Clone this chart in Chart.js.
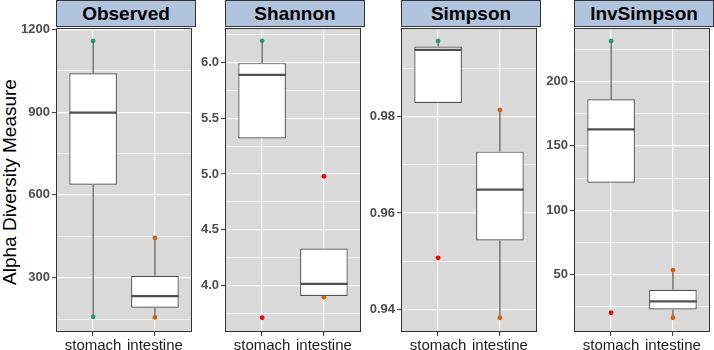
<!DOCTYPE html>
<html>
<head>
<meta charset="utf-8">
<script src="https://cdn.jsdelivr.net/npm/chart.js@4.4.0/dist/chart.umd.min.js"></script>
<style>
  body { margin: 0; background: #fff; }
  #wrap { position: relative; width: 714px; height: 350px; overflow: hidden; font-family: "Liberation Sans", Arial, sans-serif; }
  #wrap canvas { position: absolute; top: 0; }
  .strip { position: absolute; top: 0; height: 27px; box-sizing: border-box; border: 1px solid #333; background: #B0C4DE;
           font-weight: bold; font-size: 19px; line-height: 26px; text-align: center; color: #000; }
  #ytitle { position: absolute; left: -114.6px; top: 170.5px; width: 250px; height: 22px; line-height: 22px;
            font-size: 19px; color: #000; text-align: center; transform: rotate(-90deg); white-space: nowrap; }
</style>
</head>
<body>
<div id="wrap"><div id="ytitle">Alpha Diversity Measure</div></div>
<script>
// ---- data ----
const categories = ['stomach', 'intestine'];
const measures = ['Observed', 'Shannon', 'Simpson', 'InvSimpson'];

// box stats per group: [lower whisker, q1, median, q3, upper whisker]
const observedStomach = [158, 637, 898, 1041, 1158];
const observedIntestine = [156, 191, 233, 307, 444];
const shannonStomach = [5.32, 5.32, 5.89, 5.995, 6.195];
const shannonIntestine = [3.896, 3.907, 4.015, 4.333, 4.333];
const simpsonStomach = [0.98285, 0.98285, 0.99385, 0.99454, 0.9957];
const simpsonIntestine = [0.93826, 0.95431, 0.96484, 0.97273, 0.98139];
const invSimpsonStomach = [121.3, 121.3, 162.9, 186.3, 231.7];
const invSimpsonIntestine = [16.2, 22.7, 29.0, 38.0, 53.3];

// sample points (coloured by group) visible outside the boxes
const observedStomachPts = [1158, 158];
const observedIntestinePts = [444, 156];
const shannonStomachPts = [6.195];
const shannonIntestinePts = [3.896];
const simpsonStomachPts = [0.9957];
const simpsonIntestinePts = [0.98139, 0.93826];
const invSimpsonStomachPts = [231.7];
const invSimpsonIntestinePts = [53.3, 16.2];

// outliers (red)
const observedOutStomach = [];
const observedOutIntestine = [];
const shannonOutStomach = [3.712];
const shannonOutIntestine = [4.98];
const simpsonOutStomach = [0.9507];
const simpsonOutIntestine = [];
const invSimpsonOutStomach = [20.1];
const invSimpsonOutIntestine = [];

// axis limits and ticks
const observedLimits = [103, 1205];
const observedTicks = [300, 600, 900, 1200];
const observedMinor = [150, 450, 750, 1050];
const shannonLimits = [3.584, 6.31];
const shannonTicks = [4.0, 4.5, 5.0, 5.5, 6.0];
const shannonMinor = [3.75, 4.25, 4.75, 5.25, 5.75, 6.25];
const simpsonLimits = [0.9353, 0.9984];
const simpsonTicks = [0.94, 0.96, 0.98];
const simpsonMinor = [0.95, 0.97, 0.99];
const invSimpsonLimits = [5.1, 241.8];
const invSimpsonTicks = [50, 100, 150, 200];
const invSimpsonMinor = [25, 75, 125, 175, 225];

// ---- layout ----
const panelLeft = [56, 225, 401, 574];
const canvasLeft = [0, 196, 365, 541];
const panelW = 139;
const boxLine = '#505050';
const groupColors = ['#1B9E77', '#D95F02'];

Chart.defaults.font.family = '"Liberation Sans", Arial, sans-serif';

const panelPlugin = {
  id: 'panel',
  beforeDraw(chart) {
    const { ctx, chartArea: a } = chart;
    ctx.save();
    ctx.fillStyle = '#D9D9D9';
    ctx.fillRect(a.left, a.top, a.right - a.left, a.bottom - a.top);
    ctx.restore();
  },
  afterDraw(chart) {
    const { ctx, chartArea: a } = chart;
    ctx.save();
    ctx.strokeStyle = '#333';
    ctx.lineWidth = 1;
    ctx.strokeRect(a.left + 0.5, a.top + 0.5, a.right - a.left - 1, a.bottom - a.top - 1);
    ctx.restore();
  }
};

function lineDs(data, width, order) {
  return { type: 'line', data: data, borderColor: boxLine, borderWidth: width, pointRadius: 0,
           fill: false, order: order, yAxisID: 'y', xAxisID: 'x' };
}

function pointDs(values, k, color) {
  return { type: 'line', showLine: false, data: values.map(v => ({ x: k + 1, y: v })),
           pointRadius: 2.4, pointBackgroundColor: color, pointBorderWidth: 0, order: 2.5, yAxisID: 'y', xAxisID: 'x' };
}

const panels = [
  { stats: [observedStomach, observedIntestine], pts: [observedStomachPts, observedIntestinePts],
    out: [observedOutStomach, observedOutIntestine], lim: observedLimits, ticks: observedTicks, minor: observedMinor,
    fmt: v => String(v) },
  { stats: [shannonStomach, shannonIntestine], pts: [shannonStomachPts, shannonIntestinePts],
    out: [shannonOutStomach, shannonOutIntestine], lim: shannonLimits, ticks: shannonTicks, minor: shannonMinor,
    fmt: v => v.toFixed(1) },
  { stats: [simpsonStomach, simpsonIntestine], pts: [simpsonStomachPts, simpsonIntestinePts],
    out: [simpsonOutStomach, simpsonOutIntestine], lim: simpsonLimits, ticks: simpsonTicks, minor: simpsonMinor,
    fmt: v => v.toFixed(2) },
  { stats: [invSimpsonStomach, invSimpsonIntestine], pts: [invSimpsonStomachPts, invSimpsonIntestinePts],
    out: [invSimpsonOutStomach, invSimpsonOutIntestine], lim: invSimpsonLimits, ticks: invSimpsonTicks, minor: invSimpsonMinor,
    fmt: v => String(v) }
];

const wrap = document.getElementById('wrap');

panels.forEach((p, i) => {
  const axisW = panelLeft[i] - canvasLeft[i];
  const cv = document.createElement('canvas');
  cv.width = axisW + panelW + 1;
  cv.height = 350;
  cv.style.left = canvasLeft[i] + 'px';
  wrap.appendChild(cv);

  const strip = document.createElement('div');
  strip.className = 'strip';
  strip.style.left = panelLeft[i] + 'px';
  strip.style.width = (panelW + 1) + 'px';
  strip.textContent = measures[i];
  wrap.appendChild(strip);

  const datasets = [];
  datasets.push({
    type: 'bar', data: p.stats.map((s, k) => ({ x: k + 1, y: [s[1], s[3]] })),
    backgroundColor: '#fff', borderColor: boxLine, borderWidth: 1.2, borderSkipped: false,
    barPercentage: 0.77, categoryPercentage: 1, order: 2, yAxisID: 'y', xAxisID: 'x'
  });
  p.stats.forEach((s, k) => {
    const x = k + 1;
    datasets.push(lineDs([{ x: x, y: s[3] }, { x: x, y: s[4] }], 1.2, 3));
    datasets.push(lineDs([{ x: x, y: s[0] }, { x: x, y: s[1] }], 1.2, 3));
    datasets.push(lineDs([{ x: x - 0.385, y: s[2] }, { x: x + 0.385, y: s[2] }], 2.2, 1));
  });
  p.pts.forEach((vals, k) => datasets.push(pointDs(vals, k, groupColors[k])));
  p.out.forEach((vals, k) => datasets.push(pointDs(vals, k, '#FF0000')));

  new Chart(cv, {
    type: 'bar',
    data: { datasets: datasets },
    plugins: [panelPlugin],
    options: {
      responsive: false,
      animation: false,
      events: [],
      layout: { padding: { top: 28, right: 1, bottom: 0, left: 0 } },
      plugins: { legend: { display: false }, tooltip: { enabled: false } },
      scales: {
        x: {
          type: 'linear', min: 0.4, max: 2.6, offset: false,
          afterBuildTicks: s => { s.ticks = categories.map((c, k) => ({ value: k + 1 })); },
          afterFit: s => { s.height = 18; },
          ticks: { callback: v => categories[v - 1], autoSkip: false, maxRotation: 0,
                   font: { size: 15 }, color: '#1a1a1a', padding: 1 },
          grid: { color: '#fff', lineWidth: 1.2, offset: false, tickColor: '#333', tickLength: 4, tickWidth: 1 },
          border: { display: false }
        },
        y: {
          type: 'linear', position: 'left', min: p.lim[0], max: p.lim[1], beginAtZero: false,
          afterBuildTicks: s => { s.ticks = p.ticks.map(v => ({ value: v })); },
          afterFit: s => { s.width = axisW; },
          ticks: { callback: p.fmt, font: { size: 13, weight: 'bold' }, color: '#4D4D4D', padding: 2 },
          grid: { color: '#fff', lineWidth: 1.2, tickColor: '#333', tickLength: 4, tickWidth: 1 },
          border: { display: false }
        },
        yMinor: {
          type: 'linear', position: 'left', min: p.lim[0], max: p.lim[1], beginAtZero: false,
          afterBuildTicks: s => { s.ticks = p.minor.map(v => ({ value: v })); },
          afterFit: s => { s.width = 0; },
          ticks: { display: false },
          grid: { color: '#fff', lineWidth: 0.6, drawTicks: false },
          border: { display: false }
        }
      }
    }
  });
});
</script>
</body>
</html>
